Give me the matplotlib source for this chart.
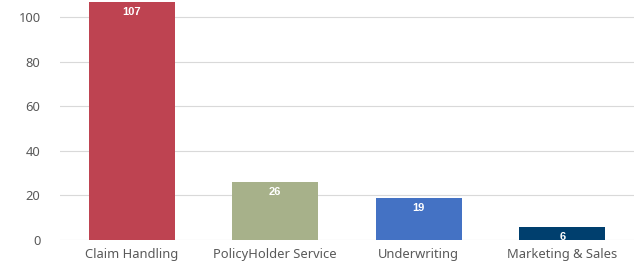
import matplotlib
matplotlib.use("Agg")
import matplotlib.pyplot as plt

categories = ["Claim Handling", "PolicyHolder Service", "Underwriting", "Marketing & Sales"]
values = [107, 26, 19, 6]
colors = ["#BE4351", "#A7B18A", "#4472C4", "#003F6E"]
yticks = [0, 20, 40, 60, 80, 100]

plt.rcParams['font.family'] = ['Noto Sans', 'DejaVu Sans']
fig = plt.figure(figsize=(6.39, 2.68), dpi=100)
ax = fig.add_axes([60/639, 28/268, 574/639, 239/268])
x = range(len(categories))
bars = ax.bar(x, values, width=0.6, color=colors, zorder=3)
for xi, v in zip(x, values):
    ax.text(xi, v - 2.4, str(v), ha='center', va='top', color='white',
            fontsize=8, fontweight='bold', family=['Liberation Sans', 'DejaVu Sans'], zorder=4)
ax.set_xlim(-0.5, 3.5)
ax.set_ylim(0, 107.3)
ax.set_yticks(yticks)
ax.set_xticks(list(x))
ax.set_xticklabels(categories)
ax.grid(axis='y', color='#D9D9D9', linewidth=0.8, zorder=0)
for s in ax.spines.values():
    s.set_visible(False)
ax.tick_params(axis='both', length=0, colors='#595959', labelsize=9.3)
ax.tick_params(axis='y', pad=14)
ax.tick_params(axis='x', pad=6)
fig.savefig("out.png", dpi=100)
